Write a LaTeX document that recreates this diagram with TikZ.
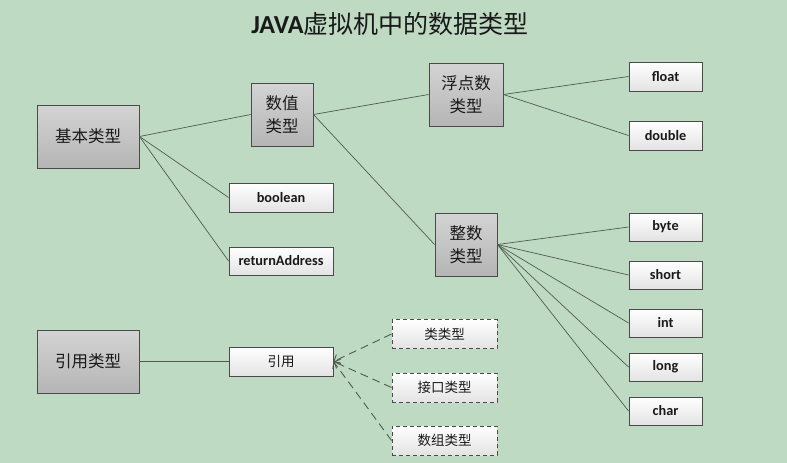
\documentclass[tikz,border=0pt]{standalone}
\usepackage{fontspec}
\setmainfont{Noto Sans CJK SC}
\newfontfamily\lat{Carlito}
\usetikzlibrary{arrows.meta}
\definecolor{bg}{HTML}{BFDAC3}
\definecolor{edge}{HTML}{505A52}
\definecolor{bord}{HTML}{4A4A4A}
\tikzset{
  bigbox/.style={draw=bord, line width=0.9pt, top color=black!17, bottom color=black!29,
    inner sep=0pt, minimum width=#1, minimum height=63pt, font=\fontsize{16.5}{23}\selectfont, align=center, text=black!90},
  leaf/.style={draw=bord, line width=0.9pt, top color=white, bottom color=black!11,
    inner sep=0pt, minimum width=#1, minimum height=29pt, font=\lat\bfseries\fontsize{14.3}{16}\selectfont, text=black!90},
  cjkleaf/.style={leaf=#1, font=\fontsize{13.5}{16}\selectfont},
  dashleaf/.style={cjkleaf=105pt, dash pattern=on 4pt off 3pt},
  conn/.style={draw=edge, line width=0.7pt},
  dconn/.style={draw=edge, line width=0.9pt, dash pattern=on 8pt off 5pt, -{Straight Barb[length=5pt,width=10pt]}},
}
\begin{document}
\begin{tikzpicture}[x=1pt,y=-1pt]
\fill[bg] (0,0) rectangle (787,463);
\useasboundingbox (0,0) rectangle (787,463);

\node[text=black!90] (title) at (390,24) {{\lat\bfseries\fontsize{26}{28}\selectfont JAVA}{\fontsize{25}{28}\selectfont 虚拟机中的数据类型}};

\node[bigbox=102pt] (jb) at (88,136.5) {基本类型};
\node[bigbox=62pt] (sz) at (282,114.5) {数值\\类型};
\node[leaf=104pt] (bool) at (281,197.5) {boolean};
\node[leaf=104pt, minimum height=28pt] (ret) at (281,261) {returnAddress};
\node[bigbox=74pt] (fd) at (466,94.5) {浮点数\\类型};
\node[leaf=73pt] (fl) at (665.5,76.5) {float};
\node[leaf=73pt] (db) at (665.5,135.5) {double};
\node[bigbox=62pt] (zs) at (466,244.5) {整数\\类型};
\node[leaf=73pt, minimum height=28pt] (by) at (665.5,227) {byte};
\node[leaf=73pt, minimum height=28pt] (sh) at (665.5,275) {short};
\node[leaf=73pt, minimum height=28pt] (in) at (665.5,323) {int};
\node[leaf=73pt, minimum height=28pt] (lo) at (665.5,367) {long};
\node[leaf=73pt, minimum height=28pt] (ch) at (665.5,411) {char};

\node[bigbox=102pt] (yy) at (88,361.5) {引用类型};
\node[cjkleaf=104pt] (yn) at (281,361.5) {引用};
\node[dashleaf] (lei) at (444.5,334) {类类型};
\node[dashleaf] (jk) at (444.5,387.5) {接口类型};
\node[dashleaf] (sg) at (444.5,440.5) {数组类型};

\draw[conn] (jb.east) -- (sz.west);
\draw[conn] (jb.east) -- (bool.west);
\draw[conn] (jb.east) -- (ret.west);
\draw[conn] (sz.east) -- (fd.west);
\draw[conn] (sz.east) -- (zs.west);
\draw[conn] (fd.east) -- (fl.west);
\draw[conn] (fd.east) -- (db.west);
\foreach \t in {by,sh,in,lo,ch} \draw[conn] (zs.east) -- (\t.west);
\draw[conn, line width=0.9pt] (yy.east) -- (yn.west);
\draw[dconn] (lei.west) -- (yn.east);
\draw[dconn] (jk.west) -- (yn.east);
\draw[dconn] (sg.west) -- (yn.east);
\end{tikzpicture}
\end{document}
